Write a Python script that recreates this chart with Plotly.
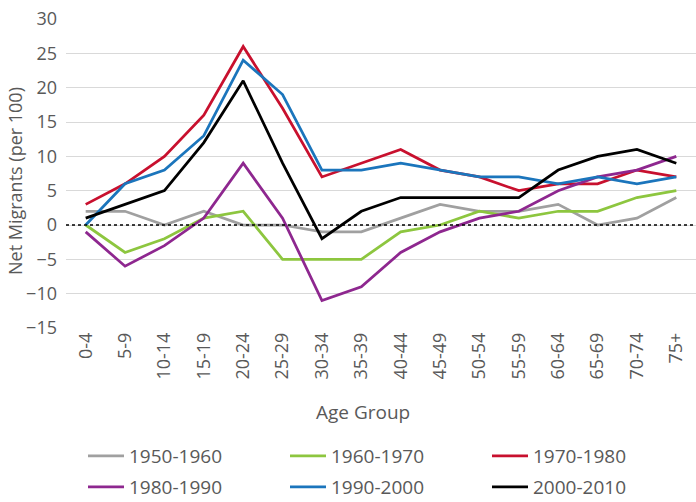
import plotly.graph_objects as go

age_groups = ["0-4", "5-9", "10-14", "15-19", "20-24", "25-29", "30-34", "35-39",
              "40-44", "45-49", "50-54", "55-59", "60-64", "65-69", "70-74", "75+"]

s1950 = [2, 2, 0, 2, 0, 0, -1, -1, 1, 3, 2, 2, 3, 0, 1, 4]
s1960 = [0, -4, -2, 1, 2, -5, -5, -5, -1, 0, 2, 1, 2, 2, 4, 5]
s1970 = [3, 6, 10, 16, 26, 17, 7, 9, 11, 8, 7, 5, 6, 6, 8, 7]
s1980 = [-1, -6, -3, 1, 9, 1, -11, -9, -4, -1, 1, 2, 5, 7, 8, 10]
s1990 = [0, 6, 8, 13, 24, 19, 8, 8, 9, 8, 7, 7, 6, 7, 6, 7]
s2000 = [1, 3, 5, 12, 21, 9, -2, 2, 4, 4, 4, 4, 8, 10, 11, 9]

series_names = ["1950-1960", "1960-1970", "1970-1980", "1980-1990", "1990-2000", "2000-2010"]
series_values = [s1950, s1960, s1970, s1980, s1990, s2000]
colors = ["#a0a0a0", "#8dc63f", "#c8102e", "#8e278f", "#1b75bc", "#000000"]
legends = ["legend", "legend", "legend", "legend2", "legend2", "legend2"]

y_ticks = [-15, -10, -5, 0, 5, 10, 15, 20, 25, 30]

TEXT = "#595959"
FONT = "Open Sans, Noto Sans, sans-serif"

fig = go.Figure()
x_idx = list(range(len(age_groups)))
for name, vals, col, lg in zip(series_names, series_values, colors, legends):
    fig.add_trace(go.Scatter(
        x=x_idx, y=vals, mode="lines", name=name,
        line=dict(color=col, width=2.75),
        legend=lg,
    ))

fig.add_hline(y=0, line=dict(color="#000000", width=1.5, dash="dot"), layer="above")

leg_common = dict(
    orientation="h", xref="paper", yref="paper",
    xanchor="left", yanchor="middle",
    entrywidth=151, entrywidthmode="pixels", itemwidth=36,
    font=dict(family=FONT, size=19, color=TEXT),
    bgcolor="rgba(0,0,0,0)", borderwidth=0,
    itemclick=False, itemdoubleclick=False,
)

PL, PT, PW, PH = 66, 19, 630, 309


def px_x(x):
    return (x - PL) / PW


def px_y(y):
    return 1 - (y - PT) / PH


fig.update_layout(
    width=696, height=502,
    margin=dict(l=PL, r=0, t=PT, b=502 - PT - PH, autoexpand=False),
    paper_bgcolor="white", plot_bgcolor="white",
    font=dict(family=FONT, color=TEXT),
    showlegend=True,
    legend=dict(x=px_x(83), y=px_y(456), **leg_common),
    legend2=dict(x=px_x(83), y=px_y(487), **leg_common),
    xaxis=dict(
        range=[-0.5, 15.5], tickmode="array", tickvals=x_idx, ticktext=age_groups,
        tickangle=-90, showgrid=False, zeroline=False, showline=False,
        tickfont=dict(family=FONT, size=18, color=TEXT), ticks="",
    ),
    yaxis=dict(
        range=[-15, 30], tickmode="array", tickvals=y_ticks,
        showgrid=True, gridcolor="#d9d9d9", gridwidth=1, zeroline=False,
        showline=False, ticks="", ticklabelstandoff=8,
        tickfont=dict(family=FONT, size=18, color=TEXT),
    ),
    annotations=[
        dict(text="Age Group", xref="paper", yref="paper", x=px_x(363),
             y=px_y(412), xanchor="center", yanchor="middle",
             showarrow=False, font=dict(family=FONT, size=19, color=TEXT)),
        dict(text="Net Migrants (per 100)", xref="paper", yref="paper",
             x=px_x(15), y=px_y(181), xanchor="center",
             yanchor="middle", textangle=-90, showarrow=False,
             font=dict(family=FONT, size=18, color=TEXT)),
    ],
)

fig.write_html("out.html", post_script="document.body.style.margin='0';",
               config={"displayModeBar": False})
